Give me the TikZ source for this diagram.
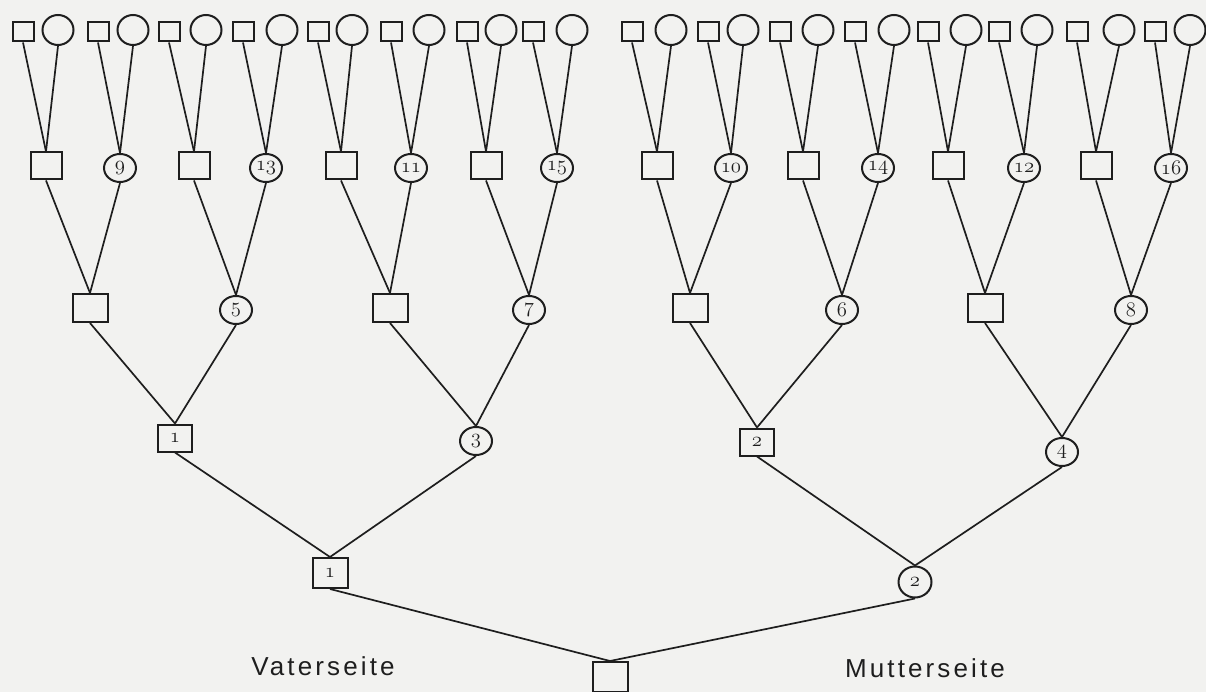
\documentclass[tikz,border=0pt]{standalone}
\usepackage{fontspec}
\usetikzlibrary{shapes.geometric}
\newfontfamily\labfont{Liberation Sans}[LetterSpace=12.0]
\newcommand\numfnt{\fontsize{21}{21}\usefont{OML}{cmm}{m}{it}}
\definecolor{bgc}{RGB}{242,242,240}
\definecolor{ink}{RGB}{30,30,30}
\begin{document}
\begin{tikzpicture}[x=1pt,y=-1pt,
  ln/.style={draw=ink,line width=1.7pt},
  sqs/.style={draw=ink,line width=2pt,rectangle,inner sep=0pt,fill=bgc,font=\numfnt,text=ink},
  ovs/.style={draw=ink,line width=2pt,ellipse,inner sep=0pt,fill=bgc,font=\numfnt,text=ink},
  tsq/.style={sqs,minimum width=21pt,minimum height=19pt},
  tov/.style={ovs,minimum width=31pt,minimum height=30pt},
  sqfour/.style={sqs,minimum width=31pt,minimum height=27pt},
  ovfour/.style={ovs,minimum width=32pt,minimum height=28pt},
  sqthree/.style={sqs,minimum width=35pt,minimum height=28pt},
  ovthree/.style={ovs,minimum width=32pt,minimum height=28pt},
  sqtwo/.style={sqs,minimum width=34pt,minimum height=27pt},
  sqone/.style={sqs,minimum width=35pt,minimum height=30pt},
  ovone/.style={ovs,minimum width=33pt,minimum height=31pt},
  lab/.style={anchor=base,font=\labfont\fontsize{26}{26}\selectfont,text=ink}]
\fill[bgc] (0,0) rectangle (1206,692);
\useasboundingbox (0,0) rectangle (1206,692);
% top row (generation 5)
\foreach \i/\x in {1/23,2/98,3/169,4/243,5/318,6/391,7/467,8/533,9/632,10/708,11/780,12/855,13/928,14/999,15/1077,16/1155}
  \node[tsq] (ts\i) at (\x,32) {};
\foreach \i/\x in {1/58,2/133,3/206,4/282,5/352,6/429,7/501,8/572,9/671,10/743,11/818,12/894,13/966,14/1037,15/1119,16/1190}
  \node[tov] (tc\i) at (\x,30) {};
% generation 4
\foreach \i/\x in {1/46,3/194,5/341,7/486,9/657,11/803,13/948,15/1096}
  \node[sqfour] (g4-\i) at (\x,166) {};
\foreach \i/\x/\n in {2/120/9,4/266/13,6/411/11,8/557/15,10/731/10,12/878/14,14/1024/12,16/1171/16}
  \node[ovfour] (g4-\i) at (\x,168) {\n};
% generation 3
\foreach \i/\x in {1/90,3/390,5/690,7/985}
  \node[sqthree] (g3-\i) at (\x,308) {};
\foreach \i/\x/\n in {2/236/5,4/529/7,6/842/6,8/1131/8}
  \node[ovthree] (g3-\i) at (\x,310) {\n};
% generation 2
\node[sqtwo] (g2-1) at (175,438) {1};
\node[ovthree] (g2-2) at (476,441) {3};
\node[sqtwo] (g2-3) at (757,442) {2};
\node[ovthree] (g2-4) at (1062,452) {4};
% generation 1
\node[sqone] (g1-1) at (330,573) {1};
\node[ovone] (g1-2) at (915,582) {2};
% proband
\node[sqone] (root) at (610,677) {};
% connectors
\foreach \j in {1,...,16} {
  \draw[ln] (ts\j.south) -- (g4-\j.north);
  \draw[ln] (tc\j.south) -- (g4-\j.north);
}
\foreach \k in {1,...,8} {
  \pgfmathtruncatemacro\a{2*\k-1}
  \pgfmathtruncatemacro\b{2*\k}
  \draw[ln] (g4-\a.south) -- (g3-\k.north);
  \draw[ln] (g4-\b.south) -- (g3-\k.north);
}
\foreach \k in {1,...,4} {
  \pgfmathtruncatemacro\a{2*\k-1}
  \pgfmathtruncatemacro\b{2*\k}
  \draw[ln] (g3-\a.south) -- (g2-\k.north);
  \draw[ln] (g3-\b.south) -- (g2-\k.north);
}
\draw[ln] (g2-1.south) -- (g1-1.north);
\draw[ln] (g2-2.south) -- (g1-1.north);
\draw[ln] (g2-3.south) -- (g1-2.north);
\draw[ln] (g2-4.south) -- (g1-2.north);
\draw[ln] (g1-1.south) -- (root.north);
\draw[ln] (g1-2.south) -- (root.north);
% side labels
\node[lab] (vs) at (323,675) {Vaterseite};
\node[lab] (ms) at (925,677) {Mutterseite};
\end{tikzpicture}
\end{document}
